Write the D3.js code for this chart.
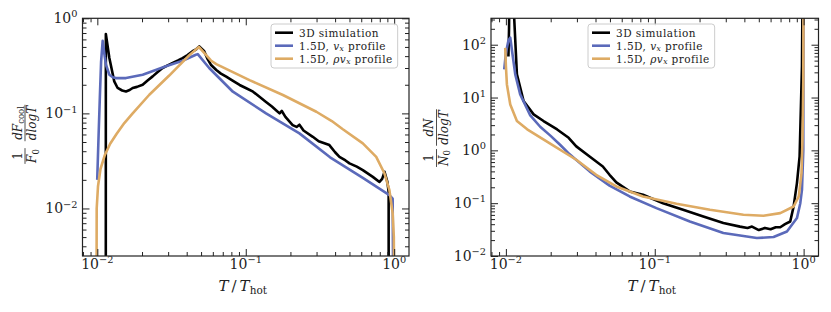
<!DOCTYPE html>
<html>
<head>
<meta charset="utf-8">
<script src="https://cdn.jsdelivr.net/npm/d3@7"></script>
<style>
  body { margin: 0; background: #fff; }
  svg { display: block; font-family: "DejaVu Serif", serif; }
</style>
</head>
<body>
<svg id="chart" width="831" height="312"></svg>
<script>
// values; 1e-4 / 1e4 mark lines that leave the frame
const coolSim = [
  [0.01140, 1e-4], [0.01141, 0.684], [0.01205, 0.382], [0.0130, 0.217], [0.0137, 0.185],
  [0.0147, 0.174], [0.0156, 0.170], [0.0165, 0.176], [0.0173, 0.185], [0.0185, 0.190],
  [0.0202, 0.200], [0.0218, 0.222], [0.0236, 0.245], [0.0255, 0.272], [0.0275, 0.300],
  [0.0300, 0.322], [0.0322, 0.339], [0.0350, 0.360], [0.0375, 0.382], [0.0405, 0.410],
  [0.0438, 0.450], [0.0462, 0.470], [0.0486, 0.507], [0.0525, 0.450], [0.0550, 0.380],
  [0.0582, 0.325], [0.0633, 0.286], [0.0680, 0.262], [0.0739, 0.243], [0.0800, 0.225],
  [0.0909, 0.199], [0.100, 0.185], [0.112, 0.169], [0.122, 0.152], [0.137, 0.132],
  [0.150, 0.118], [0.160, 0.108], [0.169, 0.100], [0.175, 0.106], [0.185, 0.092],
  [0.207, 0.0753], [0.220, 0.0720], [0.230, 0.0760], [0.245, 0.0660], [0.283, 0.0567],
  [0.310, 0.0510], [0.366, 0.0464], [0.400, 0.0390], [0.428, 0.0349], [0.470, 0.0320],
  [0.500, 0.0298], [0.560, 0.0275], [0.615, 0.0253], [0.718, 0.0215], [0.796, 0.0190],
  [0.830, 0.0205], [0.861, 0.0243], [0.900, 0.0190], [0.918, 0.0150], [0.919, 1e-4]
];
const coolVx = [
  [0.00998, 0.0200], [0.0102, 0.060], [0.0104, 0.150], [0.0106, 0.350], [0.01086, 0.580],
  [0.0112, 0.400], [0.01143, 0.325], [0.01205, 0.255], [0.0127, 0.240], [0.01334, 0.235],
  [0.0156, 0.235], [0.0202, 0.255], [0.0290, 0.313], [0.0375, 0.358], [0.0461, 0.414],
  [0.0475, 0.420], [0.0567, 0.300], [0.0819, 0.169], [0.137, 0.100], [0.230, 0.0616],
  [0.370, 0.0345], [0.615, 0.0210], [0.929, 0.0138], [0.977, 0.0127], [0.995, 1e-4]
];
const coolRhoVx = [
  [0.00985, 1e-4], [0.0099, 0.0100], [0.0101, 0.0170], [0.0105, 0.0260], [0.0112, 0.0360],
  [0.0122, 0.0480], [0.0135, 0.0610], [0.0152, 0.0790], [0.0173, 0.100], [0.0224, 0.157],
  [0.0305, 0.250], [0.0417, 0.410], [0.0483, 0.500], [0.0582, 0.360], [0.0633, 0.330],
  [0.106, 0.224], [0.178, 0.156], [0.299, 0.104], [0.380, 0.083], [0.451, 0.0680],
  [0.615, 0.0483], [0.757, 0.0349], [0.861, 0.0233], [0.929, 0.0156], [0.977, 0.0089],
  [0.995, 0.0050], [1.003, 1e-4]
];

const numSim = [
  [0.0104, 60], [0.0105, 200], [0.0106, 1e4], [0.0113, 1e4], [0.01137, 320],
  [0.01186, 27.4], [0.01315, 8.6], [0.01535, 4.8], [0.0179, 3.59], [0.0221, 2.49],
  [0.0264, 1.73], [0.0297, 1.19], [0.0365, 0.766], [0.0448, 0.496], [0.0497, 0.345],
  [0.0552, 0.247], [0.0678, 0.167], [0.0834, 0.144], [0.1137, 0.100], [0.155, 0.075],
  [0.212, 0.056], [0.289, 0.042], [0.374, 0.036], [0.420, 0.034], [0.450, 0.036],
  [0.500, 0.031], [0.550, 0.034], [0.600, 0.032], [0.650, 0.035], [0.697, 0.035],
  [0.750, 0.040], [0.813, 0.045], [0.857, 0.087], [0.902, 0.240], [0.940, 0.770],
  [0.975, 39], [0.990, 1e4]
];
const numVx = [
  [0.00975, 34], [0.0100, 70], [0.0104, 120], [0.0107, 136], [0.0110, 76],
  [0.01156, 27.4], [0.01248, 11.5], [0.01458, 4.6], [0.0170, 2.8], [0.0199, 1.9],
  [0.0233, 1.25], [0.0267, 0.85], [0.0365, 0.40], [0.0497, 0.215], [0.0678, 0.134],
  [0.1026, 0.0807], [0.172, 0.0451], [0.289, 0.0272], [0.485, 0.0219], [0.628, 0.0229],
  [0.773, 0.0291], [0.902, 0.0522], [0.950, 0.100], [0.975, 0.180], [0.995, 1.0], [1.0, 1e4]
];
const numRhoVx = [
  [0.0099, 87], [0.0100, 40], [0.01016, 17.7], [0.0107, 7.4], [0.01186, 3.6],
  [0.0139, 2.5], [0.0196, 1.37], [0.0297, 0.664], [0.0404, 0.345], [0.0552, 0.207],
  [0.0834, 0.134], [0.140, 0.0975], [0.235, 0.075], [0.394, 0.0603], [0.537, 0.0577],
  [0.697, 0.0648], [0.857, 0.0865], [0.928, 0.135], [0.968, 0.37], [0.983, 1.58],
  [0.995, 20], [1.0, 1e4]
];

const seriesNames = ['3D simulation', '1.5D, v_x profile', '1.5D, ρv_x profile'];
const seriesColors = ['#000000', '#5b6aba', '#deab64'];
const xTickExps = [-2, -1, 0];
const coolTickExps = [-2, -1, 0];
const numTickExps = [-2, -1, 0, 1, 2];

const svg = d3.select('#chart');
const ink = '#222';

function minorTicks(domain) {
  const out = [];
  const lo = Math.floor(Math.log10(domain[0])), hi = Math.ceil(Math.log10(domain[1]));
  for (let e = lo; e <= hi; e++) {
    for (let k = 2; k <= 9; k++) {
      const v = k * Math.pow(10, e);
      if (v >= domain[0] && v <= domain[1]) out.push(v);
    }
  }
  return out;
}

function powLabel(sel, exp, size) {
  sel.append('tspan').text('10');
  sel.append('tspan').attr('font-size', size * 0.7).attr('dy', -size * 0.42)
    .text(exp < 0 ? '\u2212' + (-exp) : String(exp));
}

function legendText(sel, name) {
  const m = name.match(/^(.*?)(ρ?)v_x(.*)$/);
  if (!m) { sel.text(name); return; }
  sel.append('tspan').text(m[1]);
  sel.append('tspan').attr('font-style', 'italic').text(m[2] + 'v');
  sel.append('tspan').attr('font-style', 'italic').attr('font-size', 7.5).attr('dy', 1.2).text('x');
  sel.append('tspan').attr('dy', -1.2).text(m[3]);
}

function fraction(g, cx, num, den) {
  // num/den are arrays of [text, italic, sub]
  const f = g.append('g');
  const put = (parts, baseline) => {
    const t = f.append('text').attr('x', cx).attr('y', baseline)
      .attr('text-anchor', 'middle').attr('font-size', 12).attr('fill', ink);
    parts.forEach(p => {
      t.append('tspan').attr('font-style', p[1] ? 'italic' : 'normal').text(p[0]);
      if (p[2]) {
        t.append('tspan').attr('font-size', 8.5).attr('dy', 2.5).text(p[2]);
        t.append('tspan').attr('dy', -2.5).text('');
      }
    });
    return t;
  };
  const a = put(num, -3.5), b = put(den, 11);
  const w = Math.max(a.node().getComputedTextLength(), b.node().getComputedTextLength()) + 2;
  f.append('line').attr('x1', cx - w / 2).attr('x2', cx + w / 2).attr('y1', 0).attr('y2', 0)
    .attr('stroke', ink).attr('stroke-width', 0.8);
}

function drawPanel(cfg) {
  const x = d3.scaleLog().domain(cfg.xDomain).range([cfg.left, cfg.right]);
  const y = d3.scaleLog().domain(cfg.yDomain).range([cfg.bottom, cfg.top]);

  svg.append('clipPath').attr('id', 'clip-' + cfg.id)
    .append('rect').attr('x', cfg.left).attr('y', cfg.top)
    .attr('width', cfg.right - cfg.left).attr('height', cfg.bottom - cfg.top);

  const line = d3.line().x(d => x(d[0])).y(d => y(d[1]));
  const plot = svg.append('g').attr('clip-path', `url(#clip-${cfg.id})`);
  cfg.series.forEach((s, i) => {
    plot.append('path').datum(s)
      .attr('fill', 'none').attr('stroke', seriesColors[i]).attr('stroke-width', 2.6)
      .attr('stroke-linejoin', 'round').attr('d', line);
  });

  const sides = [
    [d3.axisBottom(x), `translate(0,${cfg.bottom})`, cfg.xDomain],
    [d3.axisTop(x), `translate(0,${cfg.top})`, cfg.xDomain],
    [d3.axisLeft(y), `translate(${cfg.left},0)`, cfg.yDomain],
    [d3.axisRight(y), `translate(${cfg.right},0)`, cfg.yDomain]
  ];
  sides.forEach(([axis, tr, dom], i) => {
    const exps = i < 2 ? xTickExps : cfg.yTickExps;
    [[exps.map(e => Math.pow(10, e)), -7], [minorTicks(dom), -4]].forEach(([vals, len]) => {
      const a = svg.append('g').attr('transform', tr)
        .call(axis.tickValues(vals).tickSizeInner(len).tickSizeOuter(0).tickFormat(''));
      a.select('.domain').remove();
      a.selectAll('line').attr('stroke', ink).attr('stroke-width', 1);
    });
  });

  svg.append('rect').attr('x', cfg.left).attr('y', cfg.top)
    .attr('width', cfg.right - cfg.left).attr('height', cfg.bottom - cfg.top)
    .attr('fill', 'none').attr('stroke', ink).attr('stroke-width', 1.2);

  xTickExps.forEach(e => {
    const t = svg.append('text').attr('x', x(Math.pow(10, e))).attr('y', cfg.bottom + 12.5)
      .attr('text-anchor', 'middle').attr('font-size', 14).attr('fill', ink);
    powLabel(t, e, 14);
  });
  cfg.yTickExps.forEach(e => {
    const t = svg.append('text').attr('x', cfg.left - 5).attr('y', y(Math.pow(10, e)) + 5)
      .attr('text-anchor', 'end').attr('font-size', 14).attr('fill', ink);
    powLabel(t, e, 14);
  });

  // x label
  const xl = svg.append('text').attr('x', (cfg.left + cfg.right) / 2 - 3).attr('y', 291)
    .attr('text-anchor', 'middle').attr('font-size', 15).attr('fill', ink);
  xl.append('tspan').attr('font-style', 'italic').text('T');
  xl.append('tspan').text('\u2009/\u2009');
  xl.append('tspan').attr('font-style', 'italic').text('T');
  xl.append('tspan').attr('font-size', 10.5).attr('dy', 3).text('hot');

  // y label, rotated
  const yl = svg.append('g').attr('transform', `translate(${cfg.ylabelX},0) rotate(-90)`);
  fraction(yl, -cfg.ylabelA, [['1', false]], cfg.ylabelDen1);
  fraction(yl, -cfg.ylabelB, cfg.ylabelNum2, [['dlogT', true]]);

  // legend
  const lg = svg.append('g').attr('transform', `translate(${cfg.legendX},24)`);
  const box = lg.append('rect').attr('height', 44).attr('rx', 3)
    .attr('fill', 'rgba(255,255,255,0.8)').attr('stroke', '#cccccc').attr('stroke-width', 1);
  let widest = 0;
  seriesNames.forEach((n, i) => {
    const cy = 8.7 + i * 13;
    lg.append('line').attr('x1', 4).attr('x2', 22).attr('y1', cy).attr('y2', cy)
      .attr('stroke', seriesColors[i]).attr('stroke-width', 2.6);
    const t = lg.append('text').attr('x', 28).attr('y', cy + 3.8)
      .attr('font-size', 10.5).attr('letter-spacing', 0.45).attr('fill', ink);
    legendText(t, n);
    widest = Math.max(widest, t.node().getComputedTextLength());
  });
  box.attr('width', widest + 33);
}

drawPanel({
  id: 'cool', left: 82.5, right: 409, top: 18.3, bottom: 256,
  xDomain: [Math.pow(10, -2.1), Math.pow(10, 0.1)], yDomain: [Math.pow(10, -2.5), 1],
  yTickExps: coolTickExps, series: [coolSim, coolVx, coolRhoVx],
  ylabelX: 25, ylabelA: 156, ylabelB: 123,
  ylabelDen1: [['F', true, '0']], ylabelNum2: [['dF', true, 'cool']],
  legendX: 271
});
drawPanel({
  id: 'num', left: 491, right: 818.5, top: 18.3, bottom: 256,
  xDomain: [Math.pow(10, -2.1), Math.pow(10, 0.1)], yDomain: [0.01, Math.pow(10, 2.5)],
  yTickExps: numTickExps, series: [numSim, numVx, numRhoVx],
  ylabelX: 436.5, ylabelA: 158, ylabelB: 127.5,
  ylabelDen1: [['N', true, '0']], ylabelNum2: [['dN', true]],
  legendX: 588
});
</script>
</body>
</html>
